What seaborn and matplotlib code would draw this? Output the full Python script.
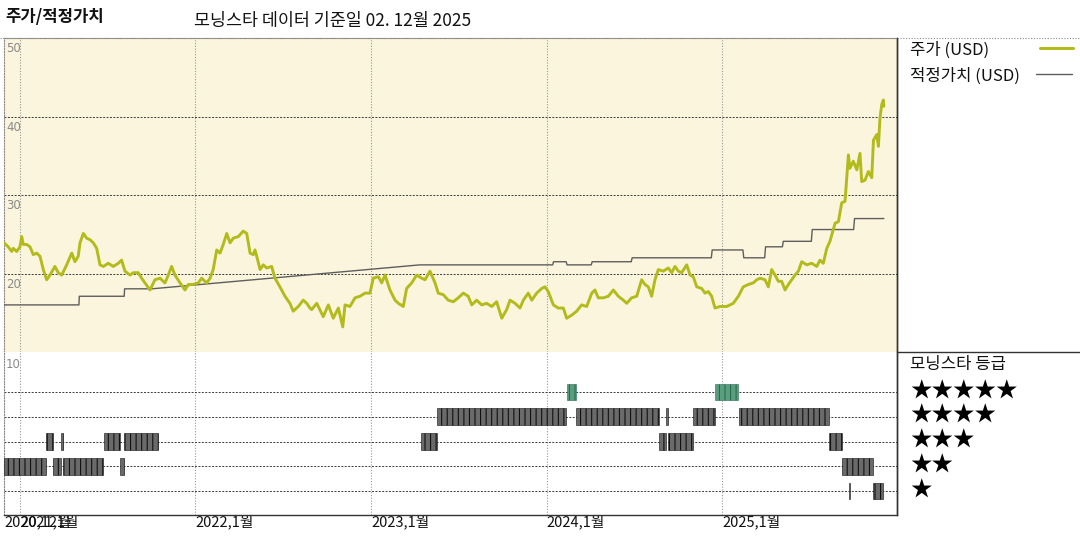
import numpy as np
import matplotlib
matplotlib.use("Agg")
import matplotlib.pyplot as plt
from matplotlib.lines import Line2D
import seaborn as sns

# ---------------- data ----------------
price_year = [
    2020.909, 2020.933, 2020.953, 2020.962, 2020.981, 2021.000, 2021.010, 2021.019, 2021.038, 2021.057,
    2021.076, 2021.095, 2021.114, 2021.133, 2021.152, 2021.171, 2021.199, 2021.218, 2021.238, 2021.266,
    2021.295, 2021.313, 2021.332, 2021.342, 2021.361, 2021.380, 2021.399, 2021.418, 2021.437, 2021.456,
    2021.475, 2021.503, 2021.532, 2021.560, 2021.579, 2021.598, 2021.627, 2021.646, 2021.674, 2021.693,
    2021.712, 2021.741, 2021.769, 2021.798, 2021.826, 2021.845, 2021.864, 2021.883, 2021.912, 2021.940,
    2021.959, 2021.987, 2022.016, 2022.035, 2022.064, 2022.083, 2022.101, 2022.121, 2022.140, 2022.158,
    2022.178, 2022.197, 2022.215, 2022.244, 2022.272, 2022.292, 2022.301, 2022.311, 2022.329, 2022.339,
    2022.349, 2022.368, 2022.386, 2022.406, 2022.434, 2022.453, 2022.481, 2022.510, 2022.538, 2022.557,
    2022.586, 2022.614, 2022.634, 2022.652, 2022.662, 2022.691, 2022.728, 2022.757, 2022.785, 2022.814,
    2022.839, 2022.852, 2022.880, 2022.909, 2022.937, 2022.966, 2022.994, 2023.013, 2023.042, 2023.061,
    2023.080, 2023.108, 2023.137, 2023.156, 2023.184, 2023.203, 2023.232, 2023.260, 2023.289, 2023.308,
    2023.336, 2023.365, 2023.383, 2023.412, 2023.440, 2023.469, 2023.497, 2023.526, 2023.554, 2023.574,
    2023.602, 2023.631, 2023.659, 2023.688, 2023.716, 2023.745, 2023.773, 2023.792, 2023.821, 2023.849,
    2023.868, 2023.896, 2023.916, 2023.944, 2023.973, 2023.991, 2024.010, 2024.039, 2024.067, 2024.096,
    2024.115, 2024.144, 2024.172, 2024.200, 2024.229, 2024.258, 2024.276, 2024.295, 2024.324, 2024.352,
    2024.381, 2024.409, 2024.438, 2024.457, 2024.485, 2024.514, 2024.542, 2024.561, 2024.580, 2024.599,
    2024.618, 2024.637, 2024.665, 2024.694, 2024.713, 2024.732, 2024.751, 2024.770, 2024.799, 2024.818,
    2024.836, 2024.856, 2024.884, 2024.903, 2024.922, 2024.941, 2024.960, 2024.989, 2025.027, 2025.064,
    2025.093, 2025.121, 2025.150, 2025.178, 2025.198, 2025.217, 2025.245, 2025.264, 2025.283, 2025.302,
    2025.321, 2025.340, 2025.359, 2025.378, 2025.397, 2025.416, 2025.435, 2025.454, 2025.483, 2025.511,
    2025.540, 2025.558, 2025.577, 2025.597, 2025.615, 2025.644, 2025.663, 2025.682, 2025.701, 2025.711,
    2025.720, 2025.729, 2025.748, 2025.768, 2025.786, 2025.796, 2025.815, 2025.834, 2025.853, 2025.863,
    2025.882, 2025.891, 2025.900, 2025.910, 2025.919, 2025.922,
]
price_usd = [
    23.9, 23.4, 22.8, 23.2, 22.8, 23.4, 24.7, 23.7, 23.7, 23.4,
    22.4, 22.6, 22.2, 20.5, 19.2, 19.8, 20.9, 20.1, 19.8, 21.1,
    22.6, 21.5, 22.2, 23.9, 25.1, 24.5, 24.3, 23.9, 23.2, 21.1,
    20.9, 21.3, 20.9, 21.3, 21.7, 20.3, 19.8, 20.1, 20.1, 19.4,
    18.8, 17.9, 19.2, 19.4, 18.8, 19.8, 20.9, 19.8, 18.8, 17.9,
    18.6, 18.6, 18.8, 19.4, 18.8, 19.4, 20.5, 23.0, 22.6, 23.7,
    25.1, 23.9, 24.5, 24.7, 25.4, 25.1, 23.9, 22.6, 22.4, 23.0,
    22.2, 20.5, 21.1, 20.7, 20.9, 19.4, 18.3, 17.1, 16.2, 15.2,
    15.8, 16.6, 16.2, 15.6, 15.4, 16.2, 14.5, 16.0, 14.3, 15.6,
    13.2, 16.0, 15.8, 16.9, 17.1, 17.5, 17.5, 19.4, 19.6, 18.8,
    19.8, 17.9, 16.6, 16.2, 15.8, 18.1, 18.8, 19.8, 19.4, 19.2,
    20.3, 18.8, 17.5, 17.3, 16.6, 16.4, 16.9, 17.5, 17.1, 16.0,
    16.6, 16.0, 16.2, 15.8, 16.4, 14.3, 15.4, 16.6, 16.2, 15.6,
    16.6, 17.5, 16.6, 17.5, 18.1, 18.3, 17.7, 16.0, 15.6, 15.6,
    14.3, 14.7, 15.2, 16.0, 15.8, 17.5, 17.9, 16.9, 16.9, 17.1,
    17.9, 17.1, 16.6, 16.2, 16.9, 17.1, 19.2, 18.6, 18.3, 17.1,
    19.2, 20.5, 20.3, 20.7, 20.1, 20.9, 20.3, 20.1, 21.1, 19.8,
    19.6, 18.3, 18.1, 17.5, 17.7, 17.1, 15.6, 15.8, 15.8, 16.2,
    17.1, 18.3, 18.6, 18.8, 19.2, 19.4, 19.2, 18.3, 20.5, 19.8,
    19.0, 19.0, 17.9, 18.6, 19.2, 19.8, 20.3, 21.5, 21.1, 21.3,
    20.9, 21.7, 21.3, 23.2, 24.1, 26.4, 26.6, 29.0, 29.2, 32.4,
    35.1, 33.4, 34.3, 33.2, 35.3, 31.7, 31.9, 33.0, 32.2, 37.0,
    37.7, 36.2, 39.8, 41.5, 42.1, 41.3,
]

fair_year = [
    2020.909, 2021.336, 2021.338, 2021.594, 2021.596, 2021.752, 2023.279, 2024.035,
    2024.040, 2024.112, 2024.117, 2024.255, 2024.260, 2024.483, 2024.488, 2024.939,
    2024.944, 2025.119, 2025.124, 2025.243, 2025.248, 2025.344, 2025.349, 2025.509,
    2025.514, 2025.750, 2025.755, 2025.922,
]
fair_usd = [
    16.0, 16.0, 17.1, 17.1, 18.05, 18.05, 21.1, 21.1,
    21.5, 21.5, 21.1, 21.1, 21.5, 21.5, 22.0, 22.0,
    23.0, 23.0, 22.0, 22.0, 23.4, 23.4, 24.1, 24.1,
    25.6, 25.6, 27.0, 27.0,
]

rating_start = [
    2020.909, 2021.188, 2021.245, 2021.570,
    2021.148, 2021.234, 2021.479, 2021.593,
    2023.285,
    2023.376, 2024.168, 2024.681, 2024.835, 2025.097,
    2024.117, 2024.960,
    2024.641, 2024.692, 2025.610,
    2025.684,
    2025.721, 2025.860,
]
rating_end = [
    2021.148, 2021.234, 2021.473, 2021.593,
    2021.188, 2021.245, 2021.570, 2021.786,
    2023.376,
    2024.111, 2024.641, 2024.692, 2024.960, 2025.610,
    2024.168, 2025.091,
    2024.681, 2024.835, 2025.684,
    2025.860,
    2025.728, 2025.917,
]
rating_stars = [
    2, 2, 2, 2,
    3, 3, 3, 3,
    3,
    4, 4, 4, 4, 4,
    5, 5,
    3, 3, 3,
    2,
    1, 1,
]

year_ticks = [2020.909, 2021.0, 2022.0, 2023.0, 2024.0, 2025.0]
year_labels = ["2020,12월", "2021,1월", "2022,1월", "2023,1월", "2024,1월", "2025,1월"]
grid_years = [2021.0, 2022.0, 2023.0, 2024.0, 2025.0]
price_grid = [20, 30, 40]
price_labels = [50, 40, 30, 20]
star_rows = [5, 4, 3, 2, 1]

title_left = "주가/적정가치"
title_right = "모닝스타 데이터 기준일 02. 12월 2025"
legend_price = "주가 (USD)"
legend_fair = "적정가치 (USD)"
rating_title = "모닝스타 등급"
rating_top_label = "10"

# ---------------- style ----------------
sns.set_theme(style="white")
plt.rcParams["font.family"] = ["Noto Sans CJK KR", "DejaVu Sans"]
plt.rcParams["hatch.linewidth"] = 0.8

PRICE_COLOR = "#b3bb1c"
FAIR_COLOR = "#5e5e5e"
BG = "#faf5dc"

W, H = 1080, 540
fig = plt.figure(figsize=(W / 100, H / 100), dpi=100)


def fx(px):
    return px / W


def fy(py):
    return 1 - py / H


XMIN, XMAX = 2020.909, 2025.997

ax1 = fig.add_axes([fx(4), fy(352), fx(897) - fx(4), fy(38) - fy(352)])
ax2 = fig.add_axes([fx(4), fy(515), fx(897) - fx(4), fy(352) - fy(515)])

# ---------------- price panel ----------------
ax1.set_facecolor(BG)
sns.lineplot(x=fair_year, y=fair_usd, ax=ax1, color=FAIR_COLOR, linewidth=1.0,
             estimator=None, sort=False, zorder=3)
sns.lineplot(x=price_year, y=price_usd, ax=ax1, color=PRICE_COLOR, linewidth=2.1,
             estimator=None, sort=False, zorder=4)
ax1.set_xlim(XMIN, XMAX)
ax1.set_ylim(10, 50)
ax1.set_xticks(grid_years)
ax1.set_yticks(price_grid)
ax1.tick_params(length=0, labelleft=False, labelbottom=False)
ax1.set_xlabel("")
ax1.set_ylabel("")
ax1.grid(axis="y", color="#3a3a3a", linestyle=(0, (2, 1.5)), linewidth=0.7)
ax1.grid(axis="x", color="#9a9a9a", linestyle=(0, (1, 1.5)), linewidth=0.8)
ax1.set_axisbelow(True)
for v in price_labels:
    ax1.annotate(str(v), xy=(0, v), xycoords=("axes fraction", "data"),
                 xytext=(1.5, -3), textcoords="offset points",
                 ha="left", va="top", fontsize=8.5, color="#8a8a8a",
                 family="DejaVu Sans")
for s in ["top", "left"]:
    ax1.spines[s].set_color("#8a8a8a")
    ax1.spines[s].set_linestyle((0, (1, 1.5)))
    ax1.spines[s].set_linewidth(0.8)
ax1.spines["bottom"].set_color("#b0b0b0")
ax1.spines["bottom"].set_linewidth(0.6)
ax1.spines["right"].set_color("#333333")
ax1.spines["right"].set_linewidth(1.0)

# ---------------- rating panel ----------------
ax2.set_facecolor("white")
starts = np.array(rating_start)
ends = np.array(rating_end)
face = ["#5a9e80" if s == 5 else "#6a6a6a" for s in rating_stars]
edge = ["#2c6a50" if s == 5 else "#111111" for s in rating_stars]
ax2.barh(y=rating_stars, width=ends - starts, left=starts, height=0.68,
         color=face, edgecolor=edge, hatch="|||", linewidth=0.4, zorder=3)
ax2.set_xlim(XMIN, XMAX)
ax2.set_ylim(0.03, 6.62)
ax2.set_yticks(star_rows)
ax2.set_xticks(year_ticks)
ax2.set_xticklabels(year_labels, ha="left", fontsize=10.5, color="#111111")
ax2.tick_params(axis="x", length=0, pad=0)
ax2.tick_params(axis="y", length=0, labelleft=False)
ax2.grid(axis="y", color="#3a3a3a", linestyle=(0, (2, 1.5)), linewidth=0.7)
ax2.grid(axis="x", color="#9a9a9a", linestyle=(0, (1, 1.5)), linewidth=0.8)
ax2.set_axisbelow(True)
ax2.annotate(rating_top_label, xy=(0, 1), xycoords="axes fraction",
             xytext=(1.5, -4), textcoords="offset points",
             ha="left", va="top", fontsize=8.5, color="#8a8a8a", family="DejaVu Sans")
ax2.spines["top"].set_visible(False)
ax2.spines["left"].set_color("#8a8a8a")
ax2.spines["left"].set_linestyle((0, (1, 1.5)))
ax2.spines["left"].set_linewidth(0.8)
ax2.spines["bottom"].set_color("#333333")
ax2.spines["bottom"].set_linewidth(1.0)
ax2.spines["right"].set_color("#333333")
ax2.spines["right"].set_linewidth(1.0)

# ---------------- frame lines & texts ----------------
fig.add_artist(Line2D([0, 1], [fy(38), fy(38)], transform=fig.transFigure,
                      color="#8a8a8a", linestyle=(0, (1, 1.5)), linewidth=0.8))
fig.add_artist(Line2D([fx(897), 1], [fy(352), fy(352)], transform=fig.transFigure,
                      color="#333333", linewidth=1.0))
fig.add_artist(Line2D([fx(897), fx(897)], [fy(515), fy(38)], transform=fig.transFigure,
                      color="#333333", linewidth=1.0))

fig.text(fx(5), fy(17), title_left, fontsize=12, fontweight="bold",
         ha="left", va="center", color="#111111")
fig.text(fx(194), fy(21), title_right, fontsize=12.5, ha="left", va="center",
         color="#111111")

fig.text(fx(910), fy(50), legend_price, fontsize=12, ha="left", va="center",
         color="#111111")
fig.add_artist(Line2D([fx(1040), fx(1073)], [fy(48), fy(48)], transform=fig.transFigure,
                      color=PRICE_COLOR, linewidth=2.2))
fig.text(fx(910), fy(76), legend_fair, fontsize=12, ha="left", va="center",
         color="#111111")
fig.add_artist(Line2D([fx(1036), fx(1072)], [fy(74), fy(74)], transform=fig.transFigure,
                      color=FAIR_COLOR, linewidth=1.0))

fig.text(fx(910), fy(365), rating_title, fontsize=12, ha="left", va="center",
         color="#111111")
row_px = {5: 392, 4: 416, 3: 441, 2: 466, 1: 491}
for s in star_rows:
    fig.text(fx(910), fy(row_px[s]), "★" * s, fontsize=15.5, ha="left", va="center",
             color="black")

fig.savefig("out.png", dpi=100, facecolor="white")
